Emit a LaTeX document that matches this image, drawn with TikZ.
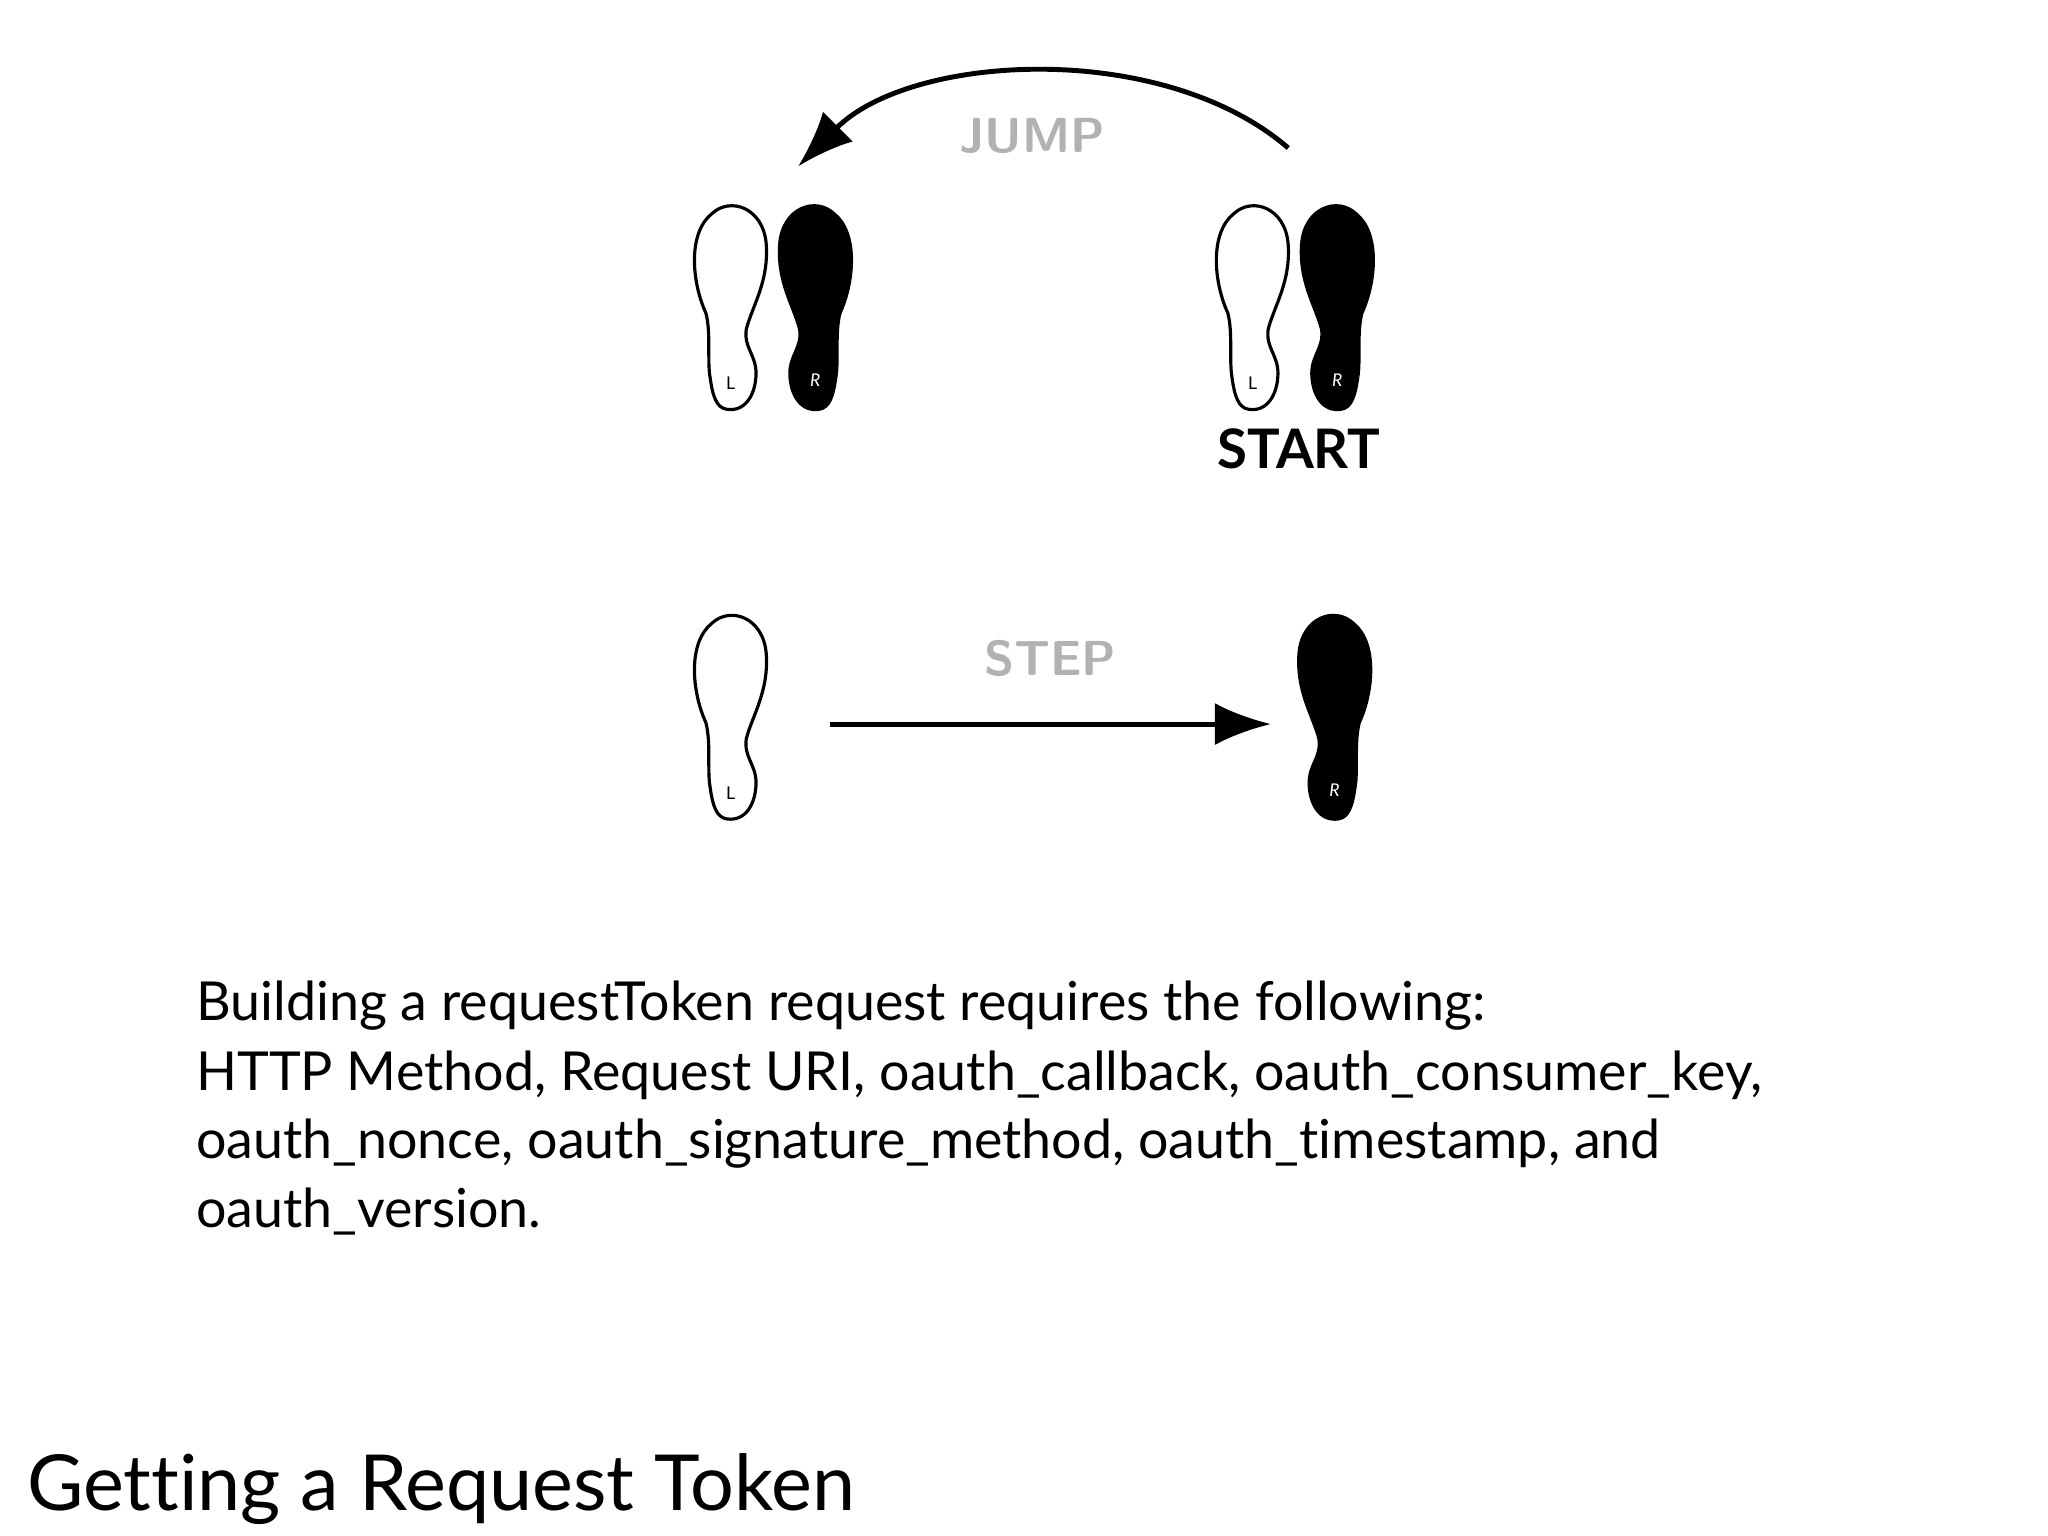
\documentclass[tikz,border=0pt]{standalone}
\usepackage{fontspec}
\setmainfont{Lato}[Ligatures=NoCommon]
\usetikzlibrary{arrows.meta}
\tikzset{
  footpath/.pic={
    \path[pic actions] (0,20) .. controls (14,20) and (20,6) .. (18,-10)
      .. controls (16,-24) and (6,-28) .. (6,-42)
      .. controls (8,-60) and (18,-80) .. (12,-108)
      .. controls (6,-135) and (-20,-140) .. (-32,-125)
      .. controls (-48,-108) and (-40,-72) .. (-26,-50)
      .. controls (-20,-36) and (-20,-14) .. (-16,-2)
      .. controls (-12,12) and (-8,20) .. (0,20) -- cycle;
  },
  whitefoot/.style={draw=black, fill=white, line width=0.9pt},
  blackfoot/.style={draw=black, fill=black, line width=0.9pt},
  lbl/.style={font=\sffamily\bfseries\fontsize{14}{16}\selectfont, text=gray!60},
  conn/.style={line width=1.4pt, -{Latex[length=16pt,width=12pt]}},
  body/.style={anchor=base west, font=\fontsize{15.3}{18}\selectfont, inner sep=0pt}
}
\begin{document}
\begin{tikzpicture}[x=0.01321cm, y=-0.01321cm]
\useasboundingbox (0,0) rectangle (1550,1162.5);
% top pair left
\pic[whitefoot, rotate=-8] at (553,290) {footpath};
\node[font=\tiny] (l1) at (553,290) {L};
\pic[blackfoot, xscale=-1, rotate=-8] at (617,290) {footpath};
\node[font=\tiny\itshape, text=white] (r1) at (617,288) {R};
% top pair right (start)
\pic[whitefoot, rotate=-8] at (948,290) {footpath};
\node[font=\tiny] (l2) at (948,290) {L};
\pic[blackfoot, xscale=-1, rotate=-8] at (1012,290) {footpath};
\node[font=\tiny\itshape, text=white] (r2) at (1012,288) {R};
\node[font=\bfseries\fontsize{15.5}{18}\selectfont] (start) at (983,340) {START};
% bottom
\pic[whitefoot, rotate=-8] at (553,600) {footpath};
\node[font=\tiny] (l3) at (553,600) {L};
\pic[blackfoot, xscale=-1, rotate=-8] at (1010,600) {footpath};
\node[font=\tiny\itshape, text=white] (r3) at (1010,598) {R};
% arrows
\coordinate (js) at (975,112);
\coordinate (je) at (604,126);
\draw[conn] (js) .. controls (880,30) and (690,40) .. (je);
\node[lbl] (jump) at (781,103) {JUMP};
\coordinate (ss) at (628,548);
\coordinate (se) at (962,548);
\draw[conn] (ss) -- (se);
\node[lbl] (step) at (795,498) {STEP};
% text
\node[body] (t1) at (148,772) {Building a requestToken request requires the following:};
\node[body] (t2) at (148,825) {HTTP Method, Request URI, oauth\_callback, oauth\_consumer\_key,};
\node[body] (t3) at (148,877) {oauth\_nonce, oauth\_signature\_method, oauth\_timestamp, and};
\node[body] (t4) at (148,929) {oauth\_version.};
\node[anchor=base west, inner sep=0pt, font=\fontsize{22}{26}\selectfont] (title) at (20,1143) {Getting a Request Token};
\end{tikzpicture}
\end{document}
